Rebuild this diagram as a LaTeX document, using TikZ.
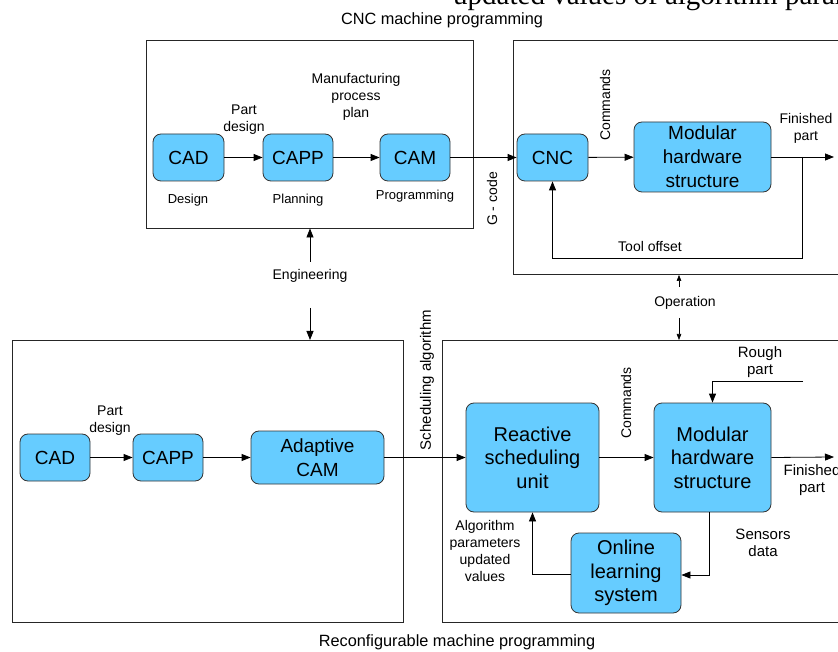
\documentclass[tikz,border=0pt]{standalone}
\usepackage{fontspec}
\setmainfont{Liberation Sans}
\newfontfamily\serifcut{Liberation Serif}
\usetikzlibrary{arrows.meta,calc}
\definecolor{boxblue}{HTML}{66CCFF}
\definecolor{edgegray}{HTML}{333333}
\tikzset{
  blk/.style={draw=edgegray, line width=0.8pt, fill=boxblue, rounded corners=8pt,
    font=\fontsize{19}{24}\selectfont, align=center, inner sep=0pt},
  blkb/.style={blk, font=\fontsize{20}{23.5}\selectfont},
  frame/.style={draw=black!85, line width=0.9pt, inner sep=0pt},
  lbl/.style={font=\fontsize{13}{16}\selectfont, align=center, inner sep=0pt},
  lblm/.style={lbl, font=\fontsize{14}{17}\selectfont},
  lblb/.style={lbl, font=\fontsize{15}{17.5}\selectfont},
  ttl/.style={font=\fontsize{16.3}{19}\selectfont, inner sep=0pt},
  arr/.style={line width=0.8pt, -{Triangle[length=9pt,width=7pt]}},
  sarr/.style={line width=0.6pt, -{Triangle[length=6pt,width=4.5pt]}},
}
\begin{document}
\begin{tikzpicture}[x=1pt,y=-1pt]
\useasboundingbox (0,0) rectangle (838,652);
\clip (0,0) rectangle (838,652);
\fill[white] (0,0) rectangle (838,652);

% cut-off text at the top
\node[anchor=base west, inner sep=0pt, font=\serifcut\fontsize{29}{33}\selectfont] (cut) at (453,5) {updated values of algorithm parameters};

% titles
\node[ttl] (t1) at (442,20) {CNC machine programming};
\node[ttl] (t2) at (457,642) {Reconfigurable machine programming};

% frames
\node[frame, minimum width=327pt, minimum height=188pt] (f1) at (309.5,134) {};
\node[frame, minimum width=340pt, minimum height=234pt, anchor=north west] (f2) at (513,40) {};
\node[frame, minimum width=391pt, minimum height=282pt, anchor=north west] (f3) at (12,340) {};
\node[frame, minimum width=410pt, minimum height=282pt, anchor=north west] (f4) at (442,340) {};

% top row
\node[blk, minimum width=71pt, minimum height=47pt] (cad1) at (188.5,157.5) {CAD};
\node[blk, minimum width=70pt, minimum height=47pt] (capp1) at (298,157.5) {CAPP};
\node[blk, minimum width=70pt, minimum height=47pt] (cam1) at (415,157.5) {CAM};
\node[blk, minimum width=71pt, minimum height=47pt] (cnc) at (552.5,157.5) {CNC};
\node[blk, minimum width=137pt, minimum height=70pt] (mhs1) at (702.5,157) {Modular\\hardware\\structure};

\node[lblm] (pd1) at (244,120) {Part\\design};
\node[lblm] (mpp) at (356,97) {Manufacturing\\process\\plan};
\node[lbl] (des) at (188,200) {Design};
\node[lbl] (pla) at (298,200) {Planning};
\node[lbl] (pro) at (415,196) {Programming};
\node[lblm, rotate=90] (gc) at (492,199) {G - code};
\node[lblm, rotate=90] (cm1) at (605,105) {Commands};
\node[lblm] (fin1) at (806,128) {Finished\\part};
\node[lblm] (tool) at (650,246) {Tool offset};

\draw[arr] (cad1) -- (capp1);
\draw[arr] (capp1) -- (cam1);
\draw[arr] (cam1) -- (cnc);
\draw[arr] (cnc) -- (mhs1);
\coordinate (fp1) at (834,157);
\draw[arr] (mhs1.east) -- (fp1);
\coordinate (tA) at (802,157);
\coordinate (tB) at (802,258);
\draw[arr] (tA) -- (tB) -| (cnc.south);

% engineering / operation
\node[lblm] (eng) at (310,276) {Engineering};
\coordinate (e1) at (310,262);
\coordinate (e2) at (310,308);
\draw[arr] (e1) -- (e1 |- f1.south);
\draw[arr] (e2) -- (e2 |- f3.north);
\node[lblm] (op) at (685,303) {Operation};
\coordinate (o1) at (679,287);
\coordinate (o2) at (679,318);
\draw[sarr] (o1) -- (o1 |- f2.south);
\draw[sarr] (o2) -- (o2 |- f4.north);

% bottom row
\node[blk, minimum width=70pt, minimum height=47pt] (cad2) at (55,457.5) {CAD};
\node[blk, minimum width=70pt, minimum height=47pt] (capp2) at (168,457.5) {CAPP};
\node[blk, minimum width=133pt, minimum height=53pt] (acam) at (317.5,457.5) {Adaptive\\CAM};
\node[blkb, minimum width=133pt, minimum height=109pt] (rsu) at (532.5,457.5) {Reactive\\scheduling\\unit};
\node[blkb, minimum width=117pt, minimum height=109pt] (mhs2) at (712.5,457.5) {Modular\\hardware\\structure};
\node[blkb, minimum width=110pt, minimum height=80pt] (ols) at (626,573) {Online\\learning\\system};

\node[lblm] (pd2) at (110,421) {Part\\design};
\node[lblb, rotate=90] (sch) at (427,380) {Scheduling algorithm};
\node[lblm, rotate=90] (cm2) at (626,403) {Commands};
\node[lblb] (rough) at (760,362) {Rough\\part};
\node[lblb] (fin2) at (812,480) {Finished\\part};
\node[lblb] (sens) at (763,543) {Sensors\\data};
\node[lblm] (alg) at (485,551) {Algorithm\\parameters\\updated\\values};

\draw[arr] (cad2) -- (capp2);
\draw[arr] (capp2) -- (acam);
\draw[arr] (acam) -- (rsu);
\draw[arr] (rsu) -- (mhs2);
\coordinate (fp2) at (834,457);
\draw[arr] (mhs2.east) -- (fp2);
\coordinate (rp) at (803,381);
\draw[arr] (rp) -| (mhs2.north);
\draw[arr] ([xshift=-3pt]mhs2.south) |- ([yshift=-2pt]ols.east);
\draw[arr] ([yshift=-1pt]ols.west) -| (rsu.south);
\end{tikzpicture}
\end{document}
